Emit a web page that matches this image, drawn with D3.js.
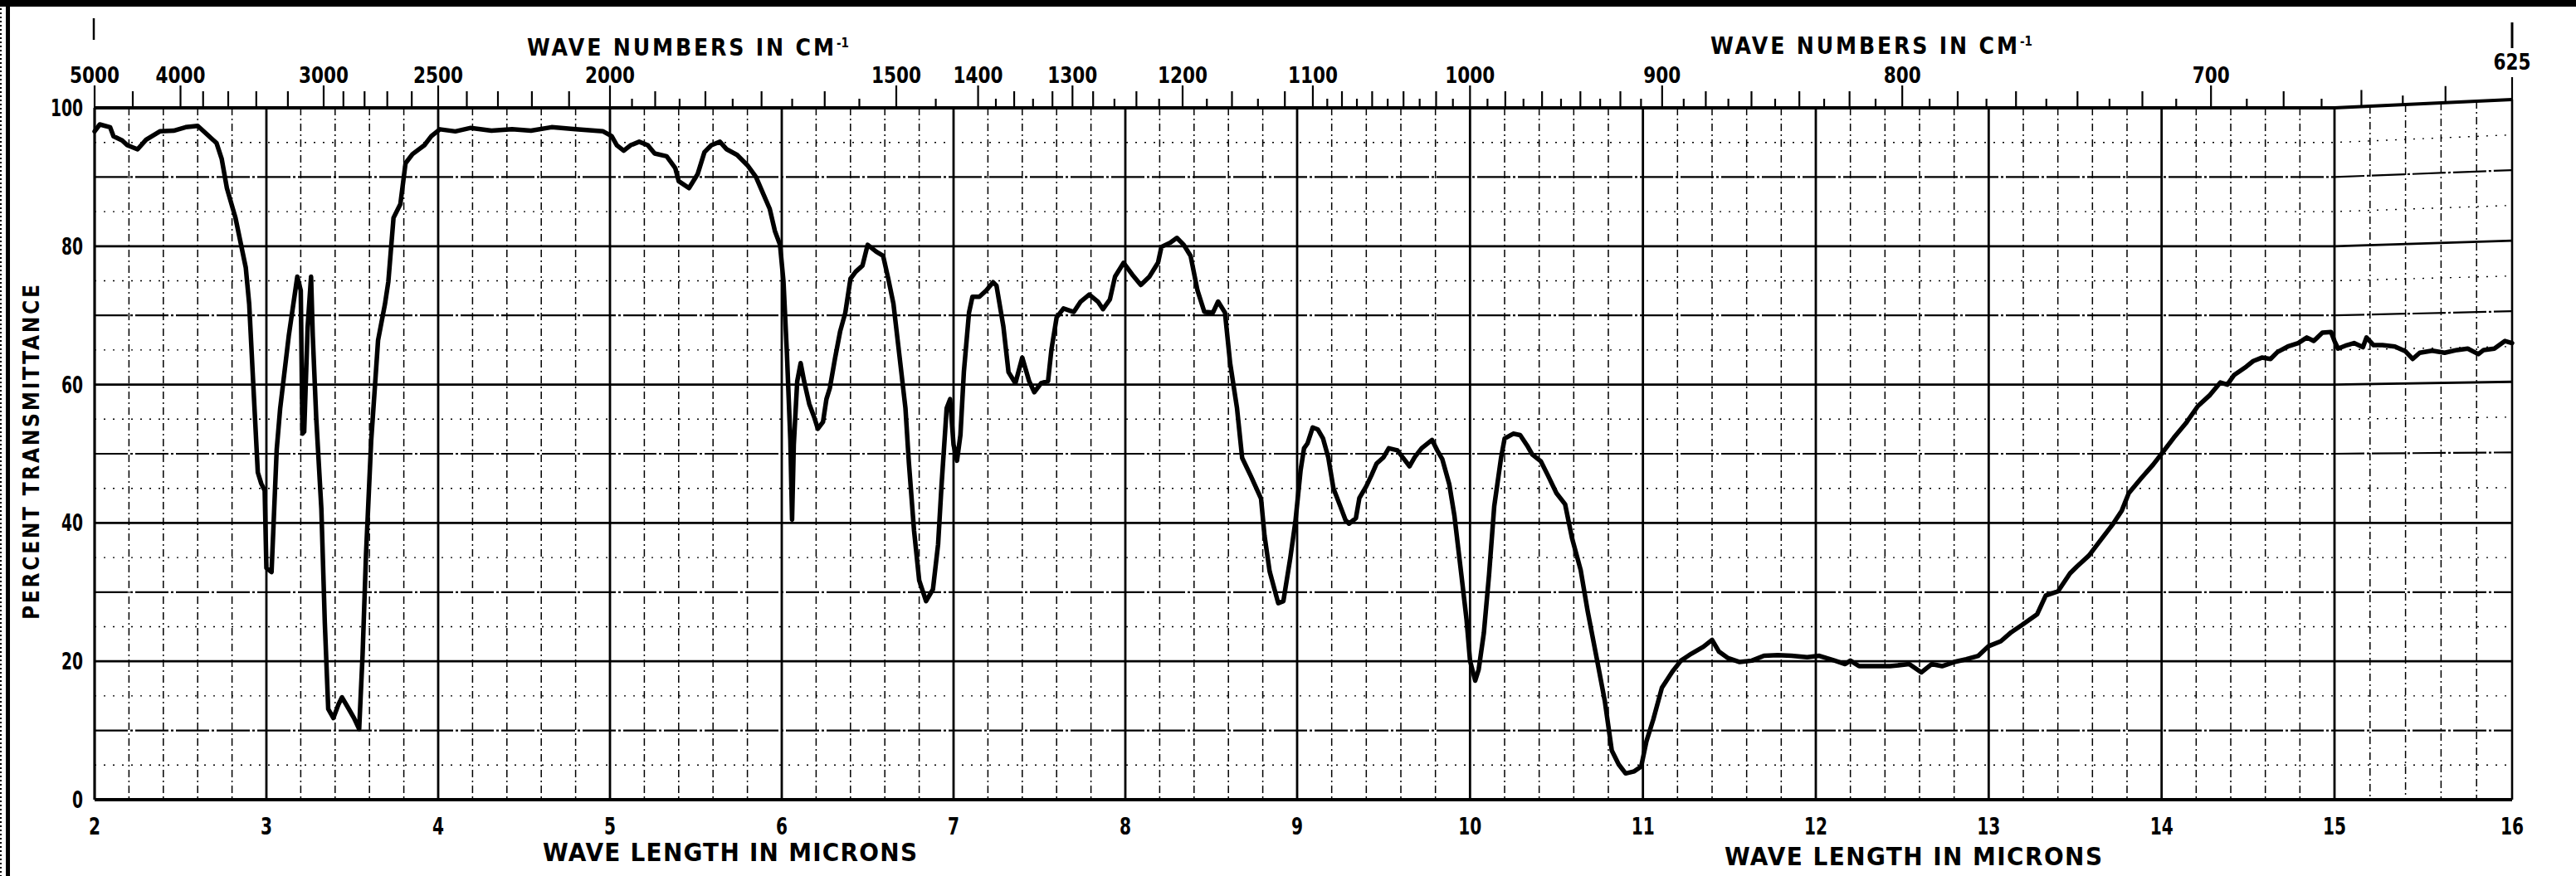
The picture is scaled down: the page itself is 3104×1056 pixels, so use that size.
<!DOCTYPE html>
<html>
<head>
<meta charset="utf-8">
<script src="https://cdn.jsdelivr.net/npm/d3@7"></script>
<style>
  html, body { margin: 0; padding: 0; background: #fff; }
  svg text { font-family: "DejaVu Sans Condensed", "Liberation Sans Narrow", "DejaVu Sans", sans-serif; font-weight: bold; font-stretch: condensed; fill: #000; }
</style>
</head>
<body>
<div id="chart"></div>
<script>
// Spectrum: wave length (microns) vs percent transmittance
var wavelength = [
  2.00, 2.03, 2.09, 2.11, 2.16, 2.19, 2.25, 2.30, 2.38, 2.46, 2.53, 2.60, 2.64, 2.71, 2.74, 2.77, 2.82, 2.88, 2.90, 2.92,
  2.95, 2.97, 2.99, 3.00, 3.03, 3.06, 3.08, 3.13, 3.18, 3.20, 3.21, 3.22, 3.24, 3.26, 3.27, 3.29, 3.32, 3.34, 3.36, 3.39,
  3.42, 3.44, 3.48, 3.51, 3.54, 3.56, 3.58, 3.61, 3.63, 3.65, 3.69, 3.71, 3.74, 3.78, 3.81, 3.85, 3.92, 3.96, 4.01, 4.10,
  4.19, 4.31, 4.43, 4.54, 4.66, 4.80, 4.96, 5.01, 5.04, 5.08, 5.12, 5.17, 5.22, 5.26, 5.33, 5.38, 5.40, 5.46, 5.51, 5.55,
  5.59, 5.64, 5.68, 5.74, 5.80, 5.85, 5.89, 5.93, 5.96, 5.99, 6.01, 6.03, 6.05, 6.06, 6.07, 6.09, 6.11, 6.13, 6.16, 6.19,
  6.21, 6.24, 6.26, 6.28, 6.31, 6.34, 6.37, 6.40, 6.43, 6.47, 6.50, 6.55, 6.59, 6.62, 6.65, 6.69, 6.72, 6.74, 6.77, 6.80,
  6.84, 6.88, 6.91, 6.93, 6.96, 6.98, 7.00, 7.02, 7.04, 7.06, 7.09, 7.11, 7.15, 7.19, 7.23, 7.25, 7.29, 7.32, 7.36, 7.40,
  7.44, 7.47, 7.51, 7.55, 7.57, 7.60, 7.64, 7.70, 7.74, 7.79, 7.84, 7.87, 7.91, 7.94, 7.99, 8.04, 8.09, 8.14, 8.19, 8.21,
  8.26, 8.30, 8.34, 8.38, 8.42, 8.46, 8.51, 8.54, 8.58, 8.61, 8.65, 8.68, 8.73, 8.79, 8.81, 8.84, 8.89, 8.92, 8.96, 8.99,
  9.02, 9.04, 9.06, 9.09, 9.12, 9.15, 9.18, 9.21, 9.25, 9.28, 9.30, 9.34, 9.36, 9.40, 9.43, 9.46, 9.50, 9.53, 9.58, 9.61,
  9.65, 9.68, 9.72, 9.78, 9.81, 9.84, 9.88, 9.91, 9.95, 9.98, 10.00, 10.03, 10.05, 10.08, 10.11, 10.14, 10.18, 10.20, 10.25, 10.29,
  10.33, 10.36, 10.41, 10.45, 10.50, 10.55, 10.59, 10.64, 10.68, 10.73, 10.78, 10.82, 10.86, 10.90, 10.95, 10.99, 11.02, 11.06, 11.11, 11.17,
  11.22, 11.28, 11.35, 11.40, 11.44, 11.49, 11.56, 11.63, 11.70, 11.78, 11.86, 11.95, 12.02, 12.11, 12.17, 12.20, 12.25, 12.34, 12.43, 12.54,
  12.61, 12.67, 12.73, 12.80, 12.87, 12.94, 13.00, 13.07, 13.13, 13.19, 13.28, 13.33, 13.40, 13.47, 13.51, 13.58, 13.65, 13.72, 13.77, 13.81,
  13.88, 13.95, 14.00, 14.07, 14.14, 14.21, 14.28, 14.34, 14.38, 14.42, 14.49, 14.53, 14.58, 14.63, 14.67, 14.73, 14.79, 14.84, 14.88, 14.93,
  14.98, 15.00, 15.02, 15.07, 15.11, 15.16, 15.18, 15.22, 15.27, 15.34, 15.40, 15.44, 15.48, 15.55, 15.62, 15.69, 15.75, 15.81, 15.84, 15.90,
  15.96, 16.00
];
var transmittance = [
  96.6, 97.6, 97.2, 95.9, 95.3, 94.6, 94.0, 95.4, 96.6, 96.7, 97.2, 97.4, 96.5, 94.9, 92.6, 88.4, 84.1, 76.9, 71.6, 61.8,
  47.3, 45.7, 44.7, 33.5, 32.9, 50.6, 56.5, 67.0, 75.6, 73.6, 52.9, 53.2, 68.3, 75.6, 67.0, 55.2, 42.0, 25.6, 13.1, 11.8,
  13.8, 14.8, 13.1, 11.8, 10.2, 21.0, 35.5, 51.9, 59.1, 66.4, 71.6, 74.9, 84.1, 86.1, 92.0, 93.3, 94.6, 95.9, 96.9, 96.6,
  97.1, 96.7, 96.9, 96.7, 97.2, 96.9, 96.6, 95.9, 94.6, 93.8, 94.6, 95.1, 94.6, 93.4, 93.0, 91.3, 89.4, 88.4, 90.4, 93.6,
  94.6, 95.1, 94.0, 93.2, 91.7, 90.0, 87.7, 85.4, 82.2, 80.2, 74.9, 64.5, 52.0, 40.5, 51.3, 60.5, 63.1, 60.5, 57.2, 55.2,
  53.6, 54.6, 57.9, 59.5, 63.8, 67.7, 70.4, 75.3, 76.3, 77.2, 80.2, 79.2, 78.6, 75.3, 71.7, 63.1, 56.6, 48.7, 38.9, 31.7,
  28.7, 30.4, 36.9, 45.4, 56.6, 57.9, 51.3, 49.0, 52.7, 61.8, 70.4, 72.7, 72.7, 73.6, 74.8, 74.3, 68.4, 61.8, 60.2, 63.9,
  60.5, 58.9, 60.2, 60.5, 65.1, 69.7, 71.0, 70.5, 72.0, 73.0, 72.0, 70.9, 72.3, 75.6, 77.6, 75.9, 74.4, 75.6, 77.6, 79.9,
  80.5, 81.2, 80.2, 78.6, 73.6, 70.5, 70.4, 72.0, 70.4, 63.1, 56.6, 49.4, 46.8, 43.5, 38.2, 33.0, 28.4, 28.7, 34.9, 40.2,
  47.6, 50.8, 51.5, 53.8, 53.5, 52.2, 49.5, 45.0, 42.4, 40.4, 39.9, 40.7, 43.6, 45.3, 46.9, 48.6, 49.5, 50.8, 50.5, 49.5,
  48.2, 49.5, 50.8, 52.0, 50.5, 49.2, 45.6, 41.0, 32.5, 26.0, 20.1, 17.2, 18.8, 24.1, 32.5, 42.4, 49.5, 52.2, 52.9, 52.7,
  51.2, 49.9, 48.9, 46.9, 44.3, 42.7, 37.8, 33.2, 27.3, 20.8, 14.2, 7.1, 5.1, 3.8, 4.1, 4.8, 8.4, 11.6, 16.2, 18.5,
  20.1, 21.1, 22.1, 23.1, 21.4, 20.5, 19.9, 20.1, 20.8, 20.9, 20.8, 20.6, 20.8, 20.1, 19.6, 20.1, 19.3, 19.3, 19.3, 19.6,
  18.4, 19.6, 19.3, 19.9, 20.3, 20.8, 22.2, 22.9, 24.2, 25.2, 26.8, 29.5, 30.1, 32.7, 33.7, 35.3, 37.6, 39.9, 41.8, 44.3,
  46.4, 48.4, 50.0, 52.3, 54.4, 56.9, 58.5, 60.3, 60.0, 61.4, 62.6, 63.4, 63.9, 63.7, 64.7, 65.5, 66.0, 66.8, 66.3, 67.5,
  67.6, 66.3, 65.2, 65.7, 66.0, 65.4, 66.8, 65.7, 65.7, 65.5, 64.8, 63.7, 64.6, 64.9, 64.6, 65.0, 65.2, 64.4, 65.0, 65.2,
  66.3, 66.0
];

// Axis labels
var micronLabels = [2, 3, 4, 5, 6, 7, 8, 9, 10, 11, 12, 13, 14, 15, 16];
var percentLabels = [0, 20, 40, 60, 80, 100];
var waveNumberLabels = [5000, 4000, 3000, 2500, 2000, 1500, 1400, 1300, 1200, 1100, 1000, 900, 800, 700, 625];
// wave number tick runs: [from, to, step]
var waveNumberRuns = [[5000, 4000, 500], [4000, 3000, 200], [3000, 2000, 100], [2000, 1400, 50], [1400, 1100, 20], [1100, 630, 10]];

var svgWidth = 3104;
var svgHeight = 1056;

var svg = d3.select("#chart")
  .append("svg")
  .attr("width", svgWidth)
  .attr("height", svgHeight);

// Scales (chart paper is slightly stretched in the last micron)
var x = d3.scaleLinear()
  .domain([2, 9, 15, 16])
  .range([114, 1563, 2813, 3027]);

var y = d3.scaleLinear()
  .domain([0, 100])
  .range([964, 130]);

// paper curls up beyond 15 microns on the upper part of the sheet
function tilt(mu, pct) {
  return mu > 15 ? -(mu - 15) * Math.max(0, pct - 40) / 6 : 0;
}

// width of a narrow printed number
function numWidth(d, per) {
  return String(d).length * per;
}

// scan edges
svg.append("rect").attr("x", 0).attr("y", 0).attr("width", svgWidth).attr("height", 8).attr("fill", "#000");
svg.append("rect").attr("x", 7).attr("y", 0).attr("width", 5).attr("height", svgHeight).attr("fill", "#000");
svg.append("line").attr("x1", 1).attr("x2", 1).attr("y1", 0).attr("y2", svgHeight)
  .attr("stroke", "#000").attr("stroke-width", 2).attr("stroke-dasharray", "2,3");

var grid = svg.append("g");

// horizontal rulings
var hline = d3.line().x(d => x(d[0])).y(d => y(d[1]) + tilt(d[0], d[1]));
d3.range(5, 100, 5).forEach(function(p) {
  var path = grid.append("path")
    .attr("d", hline([[2, p], [15, p], [16, p]]))
    .attr("fill", "none")
    .attr("stroke", "#000");
  if (p % 10 !== 0) {
    path.attr("stroke-width", 1.4).attr("stroke-dasharray", "2,9");
  } else if (p % 20 === 0) {
    path.attr("stroke-width", 2.8);
  } else {
    path.attr("stroke-width", 2.2).attr("stroke-dasharray", "40,3,3,3");
  }
});

// vertical rulings every 0.2 micron, heavy on whole microns
d3.range(22, 160, 2).map(d => d / 10).forEach(function(mu) {
  var whole = Math.abs(mu - Math.round(mu)) < 1e-6;
  grid.append("line")
    .attr("x1", x(mu)).attr("x2", x(mu))
    .attr("y1", y(100) + tilt(mu, 100)).attr("y2", y(0))
    .attr("stroke", "#000")
    .attr("stroke-width", whole ? 2.8 : 1.5)
    .attr("stroke-dasharray", whole ? null : "9,4,2,4");
});

// frame
grid.append("path")
  .attr("d", hline([[2, 100], [15, 100], [16, 100]]))
  .attr("fill", "none").attr("stroke", "#000").attr("stroke-width", 3.8);
grid.append("line").attr("x1", x(2)).attr("x2", x(16)).attr("y1", y(0)).attr("y2", y(0))
  .attr("stroke", "#000").attr("stroke-width", 4.2);
grid.append("line").attr("x1", x(2)).attr("x2", x(2)).attr("y1", y(100)).attr("y2", y(0))
  .attr("stroke", "#000").attr("stroke-width", 3.2);
grid.append("line").attr("x1", x(16)).attr("x2", x(16)).attr("y1", y(100) + tilt(16, 100)).attr("y2", y(0))
  .attr("stroke", "#000").attr("stroke-width", 2.6);

// wave number ticks on top edge
var wnTicks = [];
waveNumberRuns.forEach(function(r) {
  for (var v = r[0]; v > r[1]; v -= r[2]) wnTicks.push(v);
});
wnTicks.push(625);

var topAxis = svg.append("g");
wnTicks.forEach(function(wn) {
  var mu = 10000 / wn;
  var base = y(100) + tilt(mu, 100);
  var len;
  if (waveNumberLabels.indexOf(wn) >= 0) len = 27;
  else if (wn > 2000 || (wn > 1400 ? wn % 100 === 0 : wn > 1100 ? wn % 40 === 0 : wn % 20 === 0)) len = 20;
  else len = 11;
  topAxis.append("line")
    .attr("x1", x(mu)).attr("x2", x(mu))
    .attr("y1", base).attr("y2", base - len)
    .attr("stroke", "#000").attr("stroke-width", 2.2);
});

topAxis.selectAll("text.wn")
  .data(waveNumberLabels)
  .enter()
  .append("text")
  .attr("class", "wn")
  .attr("x", d => x(10000 / d))
  .attr("y", d => d === 625 ? 84 : 100)
  .attr("text-anchor", "middle")
  .attr("font-size", 26)
  .attr("textLength", d => numWidth(d, 15))
  .attr("lengthAdjust", "spacingAndGlyphs")
  .text(d => d);

// marker strokes above the scale ends
svg.append("line").attr("x1", 113).attr("x2", 113).attr("y1", 22).attr("y2", 48)
  .attr("stroke", "#000").attr("stroke-width", 2.5);
svg.append("line").attr("x1", x(16)).attr("x2", x(16)).attr("y1", 27).attr("y2", 58)
  .attr("stroke", "#000").attr("stroke-width", 3);

// axis titles on top
[[635, 67], [2061, 65]].forEach(function(p) {
  svg.append("text")
    .attr("x", p[0]).attr("y", p[1])
    .attr("font-size", 28)
    .attr("textLength", 370)
    .attr("lengthAdjust", "spacing")
    .text("WAVE NUMBERS IN CM");
  svg.append("text")
    .attr("x", p[0] + 373).attr("y", p[1] - 10)
    .attr("font-size", 15)
    .text("-1");
});

// bottom micron labels
svg.append("g").selectAll("text")
  .data(micronLabels)
  .enter()
  .append("text")
  .attr("x", d => x(d))
  .attr("y", 1006)
  .attr("text-anchor", "middle")
  .attr("font-size", 28)
  .attr("textLength", d => numWidth(d, 14))
  .attr("lengthAdjust", "spacingAndGlyphs")
  .text(d => d);

[[654, 1038, 451], [2078, 1043, 455]].forEach(function(p) {
  svg.append("text")
    .attr("x", p[0]).attr("y", p[1])
    .attr("font-size", 31)
    .attr("textLength", p[2])
    .attr("lengthAdjust", "spacing")
    .text("WAVE LENGTH IN MICRONS");
});

// percent labels on the left
svg.append("g").selectAll("text")
  .data(percentLabels)
  .enter()
  .append("text")
  .attr("x", 100)
  .attr("y", d => y(d) + 10)
  .attr("text-anchor", "end")
  .attr("font-size", 28)
  .attr("textLength", d => numWidth(d, 13))
  .attr("lengthAdjust", "spacingAndGlyphs")
  .text(d => d);

svg.append("text")
  .attr("transform", "translate(47, 545) rotate(-90)")
  .attr("text-anchor", "middle")
  .attr("font-size", 26)
  .attr("textLength", 404)
  .attr("lengthAdjust", "spacing")
  .text("PERCENT TRANSMITTANCE");

// the trace
var spectrum = wavelength.map((w, i) => [w, transmittance[i]]);
var trace = d3.line()
  .x(d => x(d[0]))
  .y(d => y(d[1]));

svg.append("path")
  .datum(spectrum)
  .attr("d", trace)
  .attr("fill", "none")
  .attr("stroke", "#000")
  .attr("stroke-width", 5.5)
  .attr("stroke-linejoin", "round")
  .attr("stroke-linecap", "round");
</script>
</body>
</html>
